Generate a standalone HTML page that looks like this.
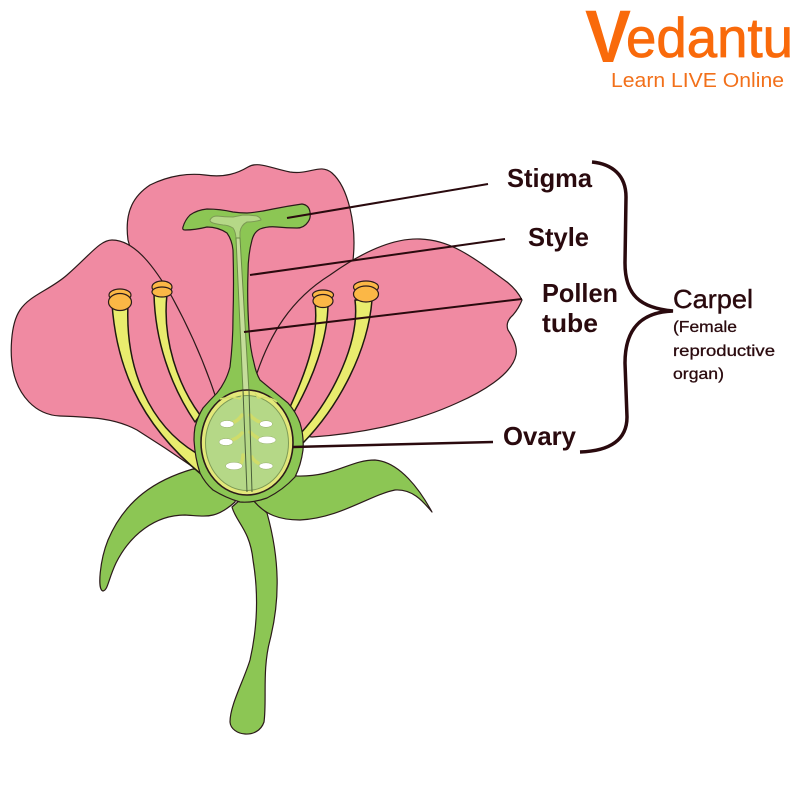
<!DOCTYPE html>
<html><head><meta charset="utf-8"><title>Carpel diagram</title>
<style>html,body{margin:0;padding:0;background:#fff}svg{display:block}
text{font-family:"Liberation Sans",sans-serif;fill:#2a0a0e}</style></head>
<body>
<svg width="800" height="800" viewBox="0 0 800 800" xmlns="http://www.w3.org/2000/svg">
<rect width="800" height="800" fill="#fff"/>
<!-- logo -->
<text x="585" y="62" font-size="74" textLength="46" lengthAdjust="spacingAndGlyphs" font-weight="bold" style="fill:#f96a0b">V</text>
<text x="626" y="57" font-size="56" textLength="167" lengthAdjust="spacingAndGlyphs" style="fill:#f96a0b;stroke:#f96a0b;stroke-width:.8">edantu</text>
<text x="611" y="87" font-size="20" textLength="173" lengthAdjust="spacingAndGlyphs" style="fill:#f2701a">Learn LIVE Online</text>

<g stroke="#2b1a1a" stroke-width="1.2" stroke-linejoin="round">
<!-- back petal -->
<path fill="#f08aa2" d="M128 240C124 210 135 195 150 185C170 175 190 173 205 175C225 178 238 173 248 167C258 161 270 168 290 172C310 175 320 163 332 173C348 187 357 225 353 260L300 430L180 430Z"/>
<!-- right petal -->
<path fill="#f08aa2" d="M257 373C270 335 290 300 330 275C365 250 395 238 420 239C450 240 470 255 507 282Q517 290 522 300Q519 308 513 315Q505 322 508 330Q518 345 516 355C512 375 480 393 457 403C420 420 370 433 312 437L260 430Z"/>
<!-- left petal -->
<path fill="#f08aa2" d="M215 395C205 365 190 330 172 297C155 268 135 240 112 240C100 240 90 255 67 275C50 290 30 295 20 310C10 325 10 355 13 370C18 395 35 415 60 416C90 417 115 418 137 430L165 448L193 467L230 430Z"/>
<!-- stem -->
<path fill="#8cc654" d="M232 507C236 522 250 530 253 560C258 590 258 625 250 660C244 680 230 705 230 722C231 736 258 740 264 722C267 700 262 670 270 640C280 600 280 560 267 513L253 500L240 500Z"/>
<!-- left sepal -->
<path fill="#8cc654" d="M193 469C155 480 125 500 108 540C100 560 97 590 103 591C108 590 108 580 116 563C130 535 155 515 185 515C205 516 215 520 235 502L240 470Z"/>
<!-- right sepal -->
<path fill="#8cc654" d="M253 500C265 515 280 520 300 520C340 518 370 495 395 490C412 489 422 500 432 512C420 490 400 462 375 460C350 460 335 477 297 476L250 470Z"/>
<!-- stamens -->
<g fill="#e9ec6e" stroke="#1f1a10" stroke-width="1.5">
<path d="M112 304C116 360 135 420 202 475L196 453C150 425 125 370 128 304Z"/>
<path d="M154 294C155 340 170 385 195 422L200 415C178 385 162 340 167 294Z"/>
<path d="M315 303C319 335 307 370 290 407L294 412C312 380 328 340 328 303Z"/>
<path d="M355 300C360 340 335 395 301 433L303 443C340 405 368 350 372 300Z"/>
</g>
<!-- anthers -->
<g fill="#fbb746">
<ellipse cx="120" cy="295" rx="11" ry="6"/><ellipse cx="120" cy="302" rx="11.5" ry="8.5"/>
<ellipse cx="162" cy="287" rx="10" ry="6"/><ellipse cx="162" cy="292" rx="10" ry="5"/>
<ellipse cx="323" cy="295" rx="10.5" ry="5"/><ellipse cx="323" cy="301" rx="10" ry="6.5"/>
<ellipse cx="366" cy="287" rx="12.5" ry="6"/><ellipse cx="366" cy="294" rx="12.5" ry="8"/>
</g>
<!-- pistil -->
<path fill="#8cc654" d="M183 227Q185 220 190 215Q197 210 207 209Q220 209 233 212Q240 213 247 213Q260 212 273 209Q288 206 302 204Q309 205 310 212Q311 218 308 222Q304 228 297 228Q287 228 277 227Q268 226 260 229Q254 232 252 240Q248 255 248 273Q247 300 249 330Q250 348 254 363Q256 373 260 380Q272 390 288 403Q296 412 300 423Q304 436 303 450Q301 465 295 477Q283 490 267 498Q253 503 240 502Q226 498 213 490Q205 483 200 473Q195 458 194 440Q194 433 195 427Q198 416 203 408Q210 400 217 393Q226 382 230 367Q233 342 233 317Q234 283 233 250Q232 240 227 233Q218 227 207 227Q195 230 185 230Q182 230 183 227Z"/>
<!-- stigma tissue and style canal -->
<path fill="#b5d887" stroke="#7d9a55" stroke-width="1" d="M210 220Q212 216 217 216Q225 217 233 217Q238 216 243 215Q250 215 257 216Q261 218 261 220Q254 222 247 222Q241 225 240 232L240 240L236 240Q236 232 233 228Q228 225 223 225Q216 224 213 223Q210 222 210 220Z"/>
<path fill="#c5dd9a" stroke="#6a8a45" stroke-width="1" d="M236 238L243 392L249 392L240 238Z"/>
<!-- ovary -->
<ellipse cx="247" cy="442.5" rx="46" ry="52.5" fill="#e3e87a" stroke-width="1.6"/>
<ellipse cx="247" cy="443" rx="41.5" ry="47.5" fill="#b5d887" stroke="#7d9a55" stroke-width="1"/>
</g>
<!-- top arcs in ovary -->
<path fill="none" stroke="#d3df6e" stroke-width="1.5" d="M220 399Q232 396 240 399L244 393M255 393L258 398Q270 396 277 402"/>
<!-- ovules -->
<g fill="none" stroke="#cfdc6a" stroke-width="3.5" stroke-linecap="round">
<path d="M232 423Q238 421 242 415M260 422Q254 420 250 415M232 440Q238 438 242 433M258 438Q254 436 250 432M240 465Q243 461 243 455M258 463Q254 461 252 457"/>
</g>
<g fill="#fff" stroke="#93ad68" stroke-width=".5">
<ellipse cx="227" cy="424" rx="7" ry="3.5"/><ellipse cx="266" cy="424" rx="6.5" ry="3.3"/>
<ellipse cx="226" cy="442" rx="7" ry="3.5"/><ellipse cx="267" cy="440" rx="9" ry="3.8"/>
<ellipse cx="234" cy="466" rx="8.5" ry="3.8"/><ellipse cx="266" cy="466" rx="7" ry="3.2"/>
</g>
<path fill="none" stroke="#4a5e3a" stroke-width="1" d="M243 390L247 492M249 390L252 492"/>
<!-- leader lines -->
<g stroke="#2a0a0e" stroke-width="2" fill="none">
<line x1="287" y1="218" x2="488" y2="184"/>
<line x1="250" y1="275" x2="505" y2="239"/>
<line x1="244" y1="332" x2="522" y2="299"/>
<line x1="293" y1="447" x2="493" y2="442" stroke-width="2.5"/>
</g>
<!-- brace -->
<path fill="none" stroke="#2a0a0e" stroke-width="3.5" d="M592 162C612 164 626 175 626 197L625 263C625 295 640 308 673 311C645 312 625 325 625 363L627 417C627 440 610 451 580 452"/>
<!-- labels -->
<g font-weight="bold" font-size="26">
<text x="507" y="187" textLength="85" lengthAdjust="spacingAndGlyphs">Stigma</text>
<text x="528" y="246" textLength="61" lengthAdjust="spacingAndGlyphs">Style</text>
<text x="542" y="302" textLength="76" lengthAdjust="spacingAndGlyphs">Pollen</text>
<text x="542" y="332" textLength="56" lengthAdjust="spacingAndGlyphs">tube</text>
<text x="503" y="445" textLength="73" lengthAdjust="spacingAndGlyphs">Ovary</text>
</g>
<text x="673" y="308" font-size="26" textLength="80" lengthAdjust="spacingAndGlyphs" style="stroke:#2a0a0e;stroke-width:.4">Carpel</text>
<g font-size="16" style="stroke:#2a0a0e;stroke-width:.3">
<text x="673" y="332" textLength="64" lengthAdjust="spacingAndGlyphs">(Female</text>
<text x="673" y="356" textLength="102" lengthAdjust="spacingAndGlyphs">reproductive</text>
<text x="673" y="379" textLength="51" lengthAdjust="spacingAndGlyphs">organ)</text>
</g>
</svg>
</body></html>
